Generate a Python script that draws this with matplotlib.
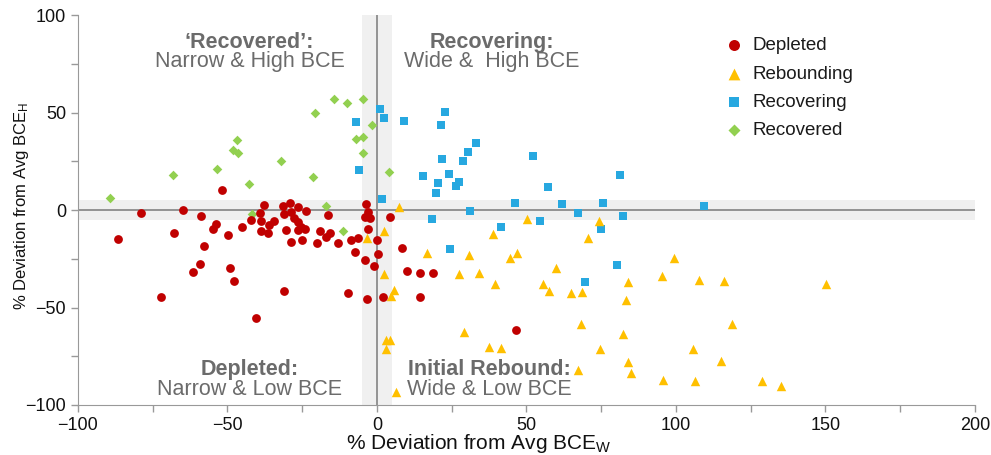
import matplotlib
matplotlib.use("Agg")
import matplotlib.pyplot as plt

plt.rcParams['font.family'] = ['Liberation Sans', 'DejaVu Sans']
plt.rcParams['mathtext.default'] = 'regular'

# % deviation from average BCE (x: W, y: H) per stock, grouped by status
depleted_x = [-51.9, -78.9, -65.0, -58.9, -86.5, -68.0, -53.8, -54.9, -49.7, -58.0,
              -59.3, -61.5, -49.0, -47.7, -72.2, -40.5, -31.2, -9.6, -3.3, 1.9,
              -45.2, -42.2, -39.0, -37.8, -38.7, -38.9, -36.5, -36.0, -34.5, -31.5,
              -29.0, -26.4, -31.1, -28.8, -27.7, -26.3, -25.5, -23.9, -24.2, -30.3,
              -26.3, -28.8, -25.2, -20.1, -18.9, -15.6, -16.3, -16.9, -13.2, -8.7,
              -6.5, -7.4, -3.7, -3.0, -4.0, -2.2, -2.9, 0.0, 0.3, -4.0,
              -0.9, 4.3, 8.5, 10.0, 14.4, 18.8, 14.4, 46.5]
depleted_y = [10.4, -1.3, 0.1, -3.0, -14.8, -11.9, -7.1, -9.6, -12.7, -18.7,
              -27.6, -32.0, -29.7, -36.2, -44.7, -55.2, -41.7, -42.4, -45.5, -44.7,
              -8.8, -5.1, -1.6, 2.8, -5.7, -10.9, -11.9, -7.9, -5.8, 2.3,
              3.7, 1.8, -2.1, -1.1, -4.0, -6.3, -8.5, -0.6, -9.6, -10.4,
              -10.2, -16.5, -15.3, -17.0, -10.7, -11.6, -2.8, -13.9, -17.0, -15.3,
              -14.3, -21.6, 3.3, -1.1, -3.5, -4.1, -9.6, -15.3, -22.5, -25.4,
              -28.5, -3.7, -19.5, -31.4, -32.3, -32.4, -44.4, -61.3]

rebounding_x = [7.3, 2.2, -3.4, 2.4, 5.8, 4.7, 3.0, 4.3, 3.0, 16.6,
                30.7, 27.3, 34.2, 39.5, 44.5, 47.0, 59.9, 55.4, 57.6, 29.2,
                37.6, 41.5, 38.7, 50.2, 74.4, 70.5, 99.2, 95.2, 83.8, 107.6,
                83.3, 64.9, 68.6, 68.3, 82.2, 74.7, 83.8, 85.0, 95.6, 106.4,
                105.8, 67.1, 6.4, 116.2, 150.2, 118.7, 115.0, 128.7, 135.1]
rebounding_y = [1.8, -11.0, -14.5, -33.0, -40.8, -44.2, -66.9, -66.9, -71.2, -22.2,
                -23.3, -32.7, -32.2, -37.9, -24.7, -22.0, -29.7, -37.9, -41.6, -62.7,
                -70.4, -70.9, -12.2, -4.5, -5.4, -14.3, -24.7, -33.9, -37.0, -35.8,
                -45.9, -42.5, -41.8, -58.4, -63.8, -71.2, -78.0, -83.5, -87.4, -87.9,
                -71.2, -82.3, -93.1, -36.2, -37.9, -58.4, -77.2, -87.9, -90.5]

recovering_x = [0.9, 2.2, 8.9, -6.9, -6.1, 1.8, 22.8, 21.5, 33.1, 30.3,
                21.6, 28.9, 52.3, 81.4, 15.5, 24.0, 20.3, 27.5, 26.5, 19.8,
                57.2, 46.2, 62.0, 75.5, 31.0, 67.3, 18.4, 54.6, 41.5, 82.2,
                74.9, 109.3, 24.5, 80.2, 69.7]
recovering_y = [51.9, 47.1, 45.5, 45.0, 20.4, 5.5, 50.5, 43.7, 34.6, 29.6,
                26.0, 24.9, 27.8, 18.0, 17.5, 18.7, 13.9, 14.5, 12.2, 8.6,
                12.0, 3.7, 3.3, 3.8, -0.3, -1.6, -4.5, -5.7, -8.5, -3.3,
                -9.6, 1.9, -19.9, -28.3, -36.8]

recovered_x = [-89.3, -68.1, -53.4, -46.9, -48.3, -46.6, -42.7, -32.1, -21.4, -20.6,
               -14.5, -10.0, -4.8, -1.8, -6.9, -4.8, -4.6, 4.1, -17.0, -41.8,
               -11.5]
recovered_y = [6.3, 17.8, 20.9, 36.0, 31.0, 29.1, 13.1, 25.0, 17.0, 50.0,
               57.0, 55.0, 56.8, 43.7, 36.3, 37.3, 29.5, 19.6, 2.0, -2.0,
               -11.0]

text_grey = '#6b6b6b'
line_grey = '#8c8c8c'
band_grey = '#f0f0f0'

fig = plt.figure(figsize=(9.91, 4.55), dpi=100)
ax = fig.add_axes([0.0787, 0.1099, 0.9051, 0.857])

# +/-5% neutral bands and the zero lines
ax.axvspan(-5, 5, color=band_grey, zorder=0, lw=0)
ax.axhspan(-5, 5, color=band_grey, zorder=0, lw=0)
ax.axvline(0, color=line_grey, lw=1.3, zorder=1)
ax.axhline(0, color=line_grey, lw=1.3, zorder=1)

h_green = ax.scatter(recovered_x, recovered_y, marker='D', s=24, color='#92D050', lw=0, zorder=3)
h_blue = ax.scatter(recovering_x, recovering_y, marker='s', s=30, color='#27A8E0', lw=0, zorder=3)
h_yellow = ax.scatter(rebounding_x, rebounding_y, marker='^', s=46, color='#FFC000', lw=0, zorder=3)
h_red = ax.scatter(depleted_x, depleted_y, marker='o', s=40, color='#C00000', lw=0, zorder=4)

ax.set_xlim(-100, 200)
ax.set_ylim(-100, 100)
ax.set_xticks([-100, -50, 0, 50, 100, 150, 200])
ax.set_xticks(range(-100, 201, 25), minor=True)
ax.set_yticks([-100, -50, 0, 50, 100])
ax.set_yticks(range(-100, 101, 25), minor=True)
ax.tick_params(which='both', direction='out', length=5, width=1, color='#999999',
               labelsize=13, labelcolor='#111111')
for side in ['top', 'right']:
    ax.spines[side].set_visible(False)
for side in ['left', 'bottom']:
    ax.spines[side].set_color('#999999')

ax.set_xlabel('% Deviation from Avg BCE$_{W}$', fontsize=15, color='#111111')
ax.xaxis.set_label_coords(0.447, -0.07)
ax.set_ylabel('% Deviation from Avg BCE$_{H}$', fontsize=12, color='#111111')
ax.yaxis.set_label_coords(-0.052, 0.51)

# quadrant captions
quadrants = [
    (-42.6, 86, '\u2018Recovered\u2019:', 'Narrow & High BCE'),
    (38.5, 86, 'Recovering:', 'Wide &  High BCE'),
    (-42.6, -82, 'Depleted:', 'Narrow & Low BCE'),
    (37.5, -82, 'Initial Rebound:', 'Wide & Low BCE'),
]
for qx, qy, title, sub in quadrants:
    ax.text(qx, qy, title, ha='center', va='center', fontsize=15.5,
            fontweight='bold', color=text_grey, zorder=5)
    ax.text(qx, qy - 10, sub, ha='center', va='center', fontsize=15.5,
            color=text_grey, zorder=5)

leg = ax.legend([h_red, h_yellow, h_blue, h_green],
                ['Depleted', 'Rebounding', 'Recovering', 'Recovered'],
                loc='upper left', bbox_to_anchor=(0.702, 0.987), frameon=False,
                fontsize=13.5, labelspacing=0.6, handlelength=1.0,
                handletextpad=0.5, markerscale=1.25, scatterpoints=1)
for t in leg.get_texts():
    t.set_color('#1a1a1a')

fig.savefig('out.png', dpi=100)
